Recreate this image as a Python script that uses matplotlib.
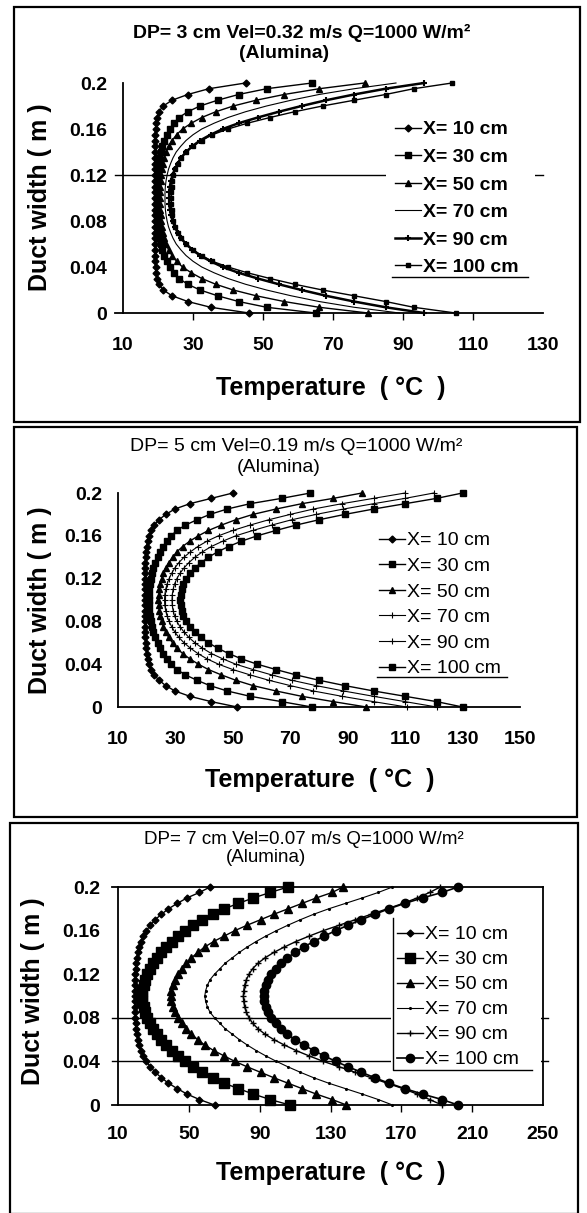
import matplotlib
matplotlib.use('Agg')
import matplotlib.pyplot as plt
from matplotlib.lines import Line2D
from matplotlib.patches import Rectangle
from matplotlib.ticker import FixedLocator

plt.rcParams['font.family'] = ['Liberation Sans', 'DejaVu Sans']

# ---------------- DATA ----------------
series_labels = ['X= 10 cm', 'X= 30 cm', 'X= 50 cm', 'X= 70 cm', 'X= 90 cm', 'X= 100 cm']

duct_width = [0, 0.005, 0.01, 0.015, 0.02, 0.025, 0.03, 0.035, 0.04, 0.045, 0.05,
              0.055, 0.06, 0.065, 0.07, 0.075, 0.08, 0.085, 0.09, 0.095, 0.1,
              0.105, 0.11, 0.115, 0.12, 0.125, 0.13, 0.135, 0.14, 0.145, 0.15,
              0.155, 0.16, 0.165, 0.17, 0.175, 0.18, 0.185, 0.19, 0.195, 0.2]

# Panel 1: DP = 3 cm
p1_x10 = [46, 35, 28.5, 24, 21.5, 20.2, 19.8, 19.5, 19.3, 19.2, 19.2,
          19.1, 19.1, 19.1, 19.1, 19.1, 19.1, 19.1, 19.1, 19.1, 19.1,
          19.1, 19.1, 19.1, 19.1, 19.1, 19.1, 19.1, 19.1, 19.1, 19.2,
          19.2, 19.3, 19.5, 19.8, 20.2, 21.5, 24, 28.5, 34.5, 45]
p1_x30 = [65, 51, 43, 37, 32, 28.5, 26, 24.5, 23.3, 22.5, 21.8,
          21.2, 20.8, 20.4, 20.2, 20, 19.9, 19.8, 19.8, 19.7, 19.7,
          19.7, 19.8, 19.8, 19.9, 20, 20.2, 20.4, 20.8, 21.2, 21.8,
          22.5, 23.3, 24.5, 26, 28.5, 32, 37, 43, 51, 64]
p1_x50 = [80, 66, 56, 48, 41.5, 36.5, 32.5, 29.5, 27, 25.3, 24,
          23, 22.3, 21.8, 21.4, 21.1, 20.9, 20.8, 20.7, 20.6, 20.6,
          20.6, 20.7, 20.8, 20.9, 21.1, 21.4, 21.8, 22.3, 23, 24,
          25.3, 27, 29.5, 32.5, 36.5, 41.5, 48, 56, 66, 79]
p1_x70 = [89, 76, 66, 58, 51, 45, 40, 36, 32.5, 30, 28,
          26.5, 25.2, 24.3, 23.6, 23, 22.6, 22.3, 22.1, 22, 22,
          22, 22.1, 22.3, 22.6, 23, 23.6, 24.3, 25.2, 26.5, 28,
          30, 32.5, 36, 40, 45, 51, 58, 66, 76, 88]
p1_x90 = [96, 85, 76, 68, 61, 54.5, 48.5, 43, 38.5, 35, 32,
          29.8, 28, 26.6, 25.6, 24.8, 24.2, 23.7, 23.4, 23.2, 23.2,
          23.2, 23.4, 23.7, 24.2, 24.8, 25.6, 26.6, 28, 29.8, 32,
          35, 38.5, 43, 48.5, 54.5, 61, 68, 76, 85, 96]
p1_x100 = [105, 93, 85, 76, 67, 59, 52, 45.5, 40, 35.5, 32.5,
           30, 28, 26.6, 25.6, 24.9, 24.4, 24.1, 23.9, 23.8, 23.8,
           23.8, 23.9, 24.1, 24.4, 24.9, 25.6, 26.6, 28, 30, 32.5,
           35.5, 40, 45.5, 52, 59, 67, 76, 85, 93, 104]

# Panel 2: DP = 5 cm
p2_x10 = [51.5, 42.5, 35, 29.8, 26.6, 24.3, 22.6, 21.5, 20.8, 20.3, 20,
          19.8, 19.6, 19.5, 19.5, 19.4, 19.4, 19.4, 19.4, 19.4, 19.4,
          19.4, 19.4, 19.4, 19.4, 19.4, 19.5, 19.5, 19.6, 19.8, 20,
          20.3, 20.8, 21.5, 22.6, 24.3, 26.6, 29.8, 35, 42.5, 50]
p2_x30 = [77.5, 67, 56, 48, 42, 37.5, 33.5, 30.5, 28.5, 27, 25.8,
          24.7, 23.8, 23, 22.3, 21.8, 21.4, 21.1, 20.9, 20.8, 20.8,
          20.8, 20.9, 21.1, 21.4, 21.8, 22.3, 23, 23.8, 24.7, 25.8,
          27, 28.5, 30.5, 33.5, 37.5, 42, 48, 56, 67, 77]
p2_x50 = [96.5, 85, 74, 65, 57, 51, 46, 41.5, 38, 35, 32.5,
          30.5, 29, 27.7, 26.6, 25.8, 25.2, 24.7, 24.4, 24.2, 24.1,
          24.2, 24.4, 24.7, 25.2, 25.8, 26.6, 27.7, 29, 30.5, 32.5,
          35, 38, 41.5, 46, 51, 57, 65, 74, 85, 95]
p2_x70 = [110.5, 99, 88, 78, 70, 62.5, 56, 50, 45, 41, 37.8,
          35.2, 33, 31.2, 29.8, 28.7, 27.8, 27.1, 26.6, 26.3, 26.2,
          26.3, 26.6, 27.1, 27.8, 28.7, 29.8, 31.2, 33, 35.2, 37.8,
          41, 45, 50, 56, 62.5, 70, 78, 88, 99, 110]
p2_x90 = [121, 110, 99, 88.5, 79, 70.5, 63.5, 57, 51, 46.5, 42.5,
          39.4, 36.8, 34.7, 33, 31.6, 30.5, 29.7, 29.2, 28.9, 28.8,
          28.9, 29.2, 29.7, 30.5, 31.6, 33, 34.7, 36.8, 39.4, 42.5,
          46.5, 51, 57, 63.5, 70.5, 79, 88.5, 99, 110, 120]
p2_x100 = [130, 121, 110, 99, 89, 80, 72, 65, 58.5, 53, 48.5,
           44.7, 41.5, 39, 36.8, 35, 33.7, 32.8, 32.2, 31.8, 31.6,
           31.8, 32.2, 32.8, 33.7, 35, 36.8, 39, 41.5, 44.7, 48.5,
           53, 58.5, 65, 72, 80, 89, 99, 110, 121, 130]

# Panel 3: DP = 7 cm
p3_x10 = [64.5, 56, 49, 43.5, 38.5, 34.5, 31, 28.3, 26, 24.3, 23,
          22, 21.2, 20.6, 20.2, 19.9, 19.7, 19.6, 19.5, 19.5, 19.5,
          19.5, 19.5, 19.6, 19.7, 19.9, 20.2, 20.6, 21.2, 22, 23,
          24.3, 26, 28.3, 31, 34.5, 38.5, 43.5, 49, 56, 62]
p3_x30 = [107, 96, 86.5, 78, 70, 63.5, 57.5, 52.5, 48, 44, 40.5,
          37.3, 34.5, 32, 29.8, 28, 26.5, 25.3, 24.4, 23.8, 23.6,
          23.8, 24.4, 25.3, 26.5, 28, 29.8, 32, 34.5, 37.3, 40.5,
          44, 48, 52.5, 57.5, 63.5, 70, 78, 86.5, 96, 106]
p3_x50 = [139, 131, 122, 114, 106, 98, 90.5, 83, 76, 70, 64,
          59, 55, 51.5, 48.5, 46, 44, 42.3, 41, 40.2, 39.8,
          40.2, 41, 42.3, 44, 46, 48.5, 51.5, 55, 59, 64,
          70, 76, 83, 90.5, 98, 106, 114, 122, 131, 137]
p3_x70 = [165, 157, 148, 138.5, 129, 120.5, 113, 106, 99.5, 93.5, 88,
          83, 78.5, 74.5, 70.5, 67.5, 64.5, 62, 60.5, 59.5, 59,
          59.5, 60.5, 62, 64.5, 67.5, 70.5, 74.5, 78.5, 83, 88,
          93.5, 99.5, 106, 113, 120.5, 129, 138.5, 148, 157, 165]
p3_x90 = [193, 186, 179, 171, 162, 153, 144, 135, 126, 118, 110.5,
          104, 98, 93, 89, 86, 84, 82.5, 81.5, 81, 80.8,
          81, 81.5, 82.5, 84, 86, 89, 93, 98, 104, 110.5,
          118, 126, 135, 144, 153, 162, 171, 179, 186, 192]
p3_x100 = [202, 193, 182, 172, 163, 155, 147.5, 140, 133, 126.5, 120.5,
           115, 110, 105.5, 102, 99, 96.5, 94.7, 93.3, 92.5, 92.2,
           92.5, 93.3, 94.7, 96.5, 99, 102, 105.5, 110, 115, 120.5,
           126.5, 133, 140, 147.5, 155, 163, 172, 182, 193, 202]

titles1 = ['DP= 3 cm Vel=0.32 m/s Q=1000 W/m\u00b2', 'DP= 5 cm Vel=0.19 m/s Q=1000 W/m\u00b2',
           'DP= 7 cm Vel=0.07 m/s Q=1000 W/m\u00b2']
title2 = '(Alumina)'
xticks1 = [10, 30, 50, 70, 90, 110, 130]
xticks2 = [10, 30, 50, 70, 90, 110, 130, 150]
xticks3 = [10, 50, 90, 130, 170, 210, 250]
yticks = [0, 0.04, 0.08, 0.12, 0.16, 0.2]
ytick_labels = ['0', '0.04', '0.08', '0.12', '0.16', '0.2']

# ---------------- LAYOUT ----------------
W, H = 587, 1213
fig = plt.figure(figsize=(W / 100, H / 100), dpi=100)


def fx(px):
    return px / W


def fy(py):
    return 1 - py / H


def box(x0, y0, x1, y1, lw=1.6):
    fig.add_artist(Rectangle((fx(x0), fy(y1)), fx(x1) - fx(x0), fy(y0) - fy(y1),
                             transform=fig.transFigure, fill=False, lw=lw, ec='black'))


def fline(xs, ys, lw=1.0):
    fig.add_artist(Line2D([fx(v) for v in xs], [fy(v) for v in ys],
                          transform=fig.transFigure, color='black', lw=lw))


def make_axes(l, r, t, b):
    return fig.add_axes([fx(l), fy(b), fx(r) - fx(l), fy(t) - fy(b)])


box(14, 7, 580, 422)
box(14, 427, 577, 817)
box(10, 823, 578, 1214)

panels = [
    dict(ax=(123, 543, 83, 313), xlim=(10, 130), xt=xticks1,
         data=[p1_x10, p1_x30, p1_x50, p1_x70, p1_x90, p1_x100],
         t1=(302, 33), t2=(284, 53), tw='bold', tfs=14,
         yl=(40, 197), xl=(331, 388), xpad=17.5, ypad=11.5,
         styles=[dict(marker='D', ms=3.5, lw=1.0),
                 dict(marker='s', ms=5, lw=1.0),
                 dict(marker='^', ms=4.5, lw=1.0),
                 dict(marker=None, lw=0.8),
                 dict(marker='+', ms=5, mew=1.5, lw=1.8),
                 dict(marker='s', ms=3.2, lw=1.0)],
         leg=dict(anchor=(389, 115), weight='bold', ls=0.51),
         white=(386, 108, 535, 274),
         minor=[30, 50, 70, 90, 110]),
    dict(ax=(118, 520, 493, 707), xlim=(10, 150), xt=xticks2,
         data=[p2_x10, p2_x30, p2_x50, p2_x70, p2_x90, p2_x100],
         t1=(296, 447), t2=(279, 468), tw='normal', tfs=14,
         yl=(40, 600), xl=(320, 780), xpad=17, ypad=11.5,
         styles=[dict(marker='D', ms=3.5, lw=1.0),
                 dict(marker='s', ms=5, lw=1.0),
                 dict(marker='^', ms=4.5, lw=1.0),
                 dict(marker='+', ms=4, mew=0.8, lw=0.8),
                 dict(marker='+', ms=4, mew=0.8, lw=0.8),
                 dict(marker='s', ms=4.5, lw=1.0)],
         leg=dict(anchor=(373, 526), weight='normal', ls=0.41),
         white=None,
         minor=[]),
    dict(ax=(118, 543, 887, 1105), xlim=(10, 250), xt=xticks3,
         data=[p3_x10, p3_x30, p3_x50, p3_x70, p3_x90, p3_x100],
         t1=(304, 839), t2=(266, 857), tw='normal', tfs=13.5,
         yl=(33, 991), xl=(331, 1173), xpad=15, ypad=13,
         styles=[dict(marker='D', ms=3.5, lw=1.0),
                 dict(marker='s', ms=6.5, lw=1.0),
                 dict(marker='^', ms=5.5, lw=1.0),
                 dict(marker='.', ms=2.5, lw=0.8),
                 dict(marker='+', ms=5, mew=1.0, lw=1.0),
                 dict(marker='o', ms=6, lw=1.2)],
         leg=dict(anchor=(391, 920), weight='normal', ls=0.38),
         white=(394, 919, 541, 1069),
         minor=[50, 90, 130, 170, 210]),
]

for i, p in enumerate(panels):
    l, r, t, b = p['ax']
    ax = make_axes(l, r, t, b)
    ax.set_xlim(*p['xlim'])
    ax.set_ylim(0, 0.2)
    handles = []
    for temps, st in zip(p['data'], p['styles']):
        h, = ax.plot(temps, duct_width, color='black', clip_on=False, zorder=3,
                     markerfacecolor='black', markeredgecolor='black', **st)
        handles.append(h)

    ax.set_xticks(p['xt'])
    ax.set_xticklabels([str(v) for v in p['xt']])
    ax.set_yticks(yticks)
    ax.set_yticklabels(ytick_labels)
    ax.tick_params(axis='both', which='major', length=0, labelsize=14)
    ax.tick_params(axis='x', which='major', pad=p['xpad'])
    ax.tick_params(axis='y', which='major', pad=p['ypad'])
    for lab in ax.get_xticklabels() + ax.get_yticklabels():
        lab.set_fontweight('bold')
    if p['minor']:
        ax.xaxis.remove_overlapping_locs = False
        ax.xaxis.set_minor_locator(FixedLocator(p['minor']))
        ax.tick_params(axis='x', which='minor', length=5, width=1.0, direction='out')
    ax.yaxis.set_minor_locator(FixedLocator([]))

    for s in ax.spines.values():
        s.set_linewidth(1.3)
    if i < 2:
        ax.spines['top'].set_visible(False)
        ax.spines['right'].set_visible(False)

    ytr = ax.get_yaxis_transform()
    if i == 0:
        ax.plot([-0.019, 1.0], [0.12, 0.12], transform=ytr, color='black', lw=1.0,
                clip_on=False, zorder=1)
        ax.plot([-0.019, 0], [0, 0], transform=ytr, color='black', lw=1.3, clip_on=False)
    if i == 2:
        for yv in [0.04, 0.08]:
            ax.plot([-0.014, 1.012], [yv, yv], transform=ytr, color='black', lw=1.0,
                    clip_on=False, zorder=1)
        for yv in [0, 0.2]:
            ax.plot([-0.014, 0], [yv, yv], transform=ytr, color='black', lw=1.3,
                    clip_on=False)

    if p['white']:
        x0, y0, x1, y1 = p['white']
        ax.add_patch(Rectangle((fx(x0), fy(y1)), fx(x1) - fx(x0), fy(y0) - fy(y1),
                               transform=fig.transFigure, facecolor='white',
                               edgecolor='none', zorder=4, clip_on=False))

    lg = p['leg']
    leg = ax.legend(handles, series_labels, loc='upper left',
                    bbox_to_anchor=(fx(lg['anchor'][0]), fy(lg['anchor'][1])),
                    bbox_transform=fig.transFigure, frameon=True, fancybox=False,
                    facecolor='white', edgecolor='none', framealpha=1.0,
                    borderpad=0.3, borderaxespad=0, handlelength=1.35,
                    handletextpad=0.1, labelspacing=lg['ls'],
                    prop=dict(size=14, weight=lg['weight']))
    leg.set_zorder(5)

    fig.text(fx(p['t1'][0]), fy(p['t1'][1]), titles1[i], ha='center', va='center',
             fontsize=p['tfs'], fontweight=p['tw'])
    fig.text(fx(p['t2'][0]), fy(p['t2'][1]), title2, ha='center', va='center',
             fontsize=p['tfs'], fontweight=p['tw'])
    fig.text(fx(p['yl'][0]), fy(p['yl'][1]), 'Duct width ( m )', rotation=90,
             ha='center', va='center', fontsize=18, fontweight='bold')
    fig.text(fx(p['xl'][0]), fy(p['xl'][1]), 'Temperature  ( \u00b0C  )',
             ha='center', va='center', fontsize=18, fontweight='bold')

# legend decorations
fline([392, 528], [277, 277])
fline([377, 507], [677, 677])
fline([393, 393, 532], [918, 1070, 1070])

fig.savefig('out.png', dpi=100, facecolor='white')
